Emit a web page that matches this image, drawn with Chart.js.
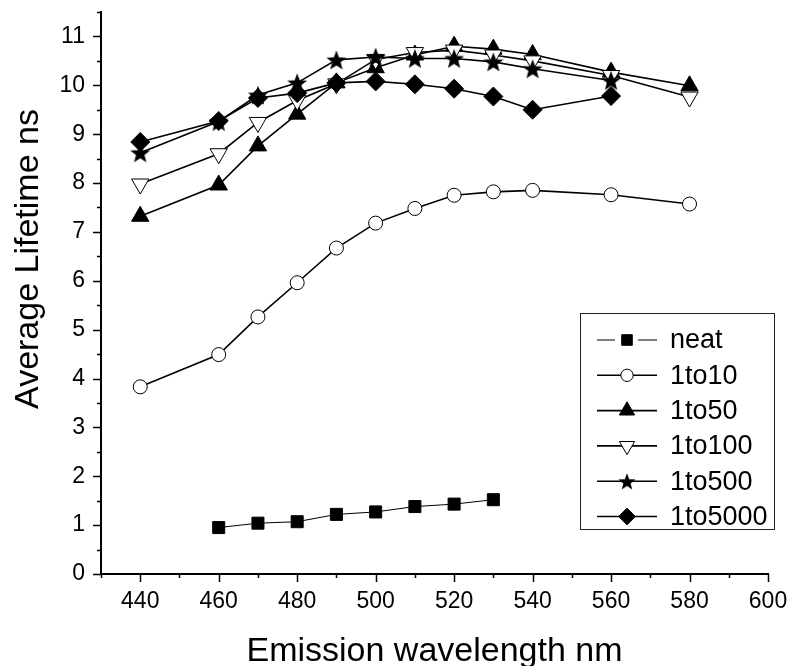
<!DOCTYPE html>
<html>
<head>
<meta charset="utf-8">
<title>Average Lifetime</title>
<script src="https://cdn.jsdelivr.net/npm/chart.js@4.4.0/dist/chart.umd.min.js"></script>
<style>
    html, body { margin: 0; padding: 0; background: #fff; }
</style>
</head>
<body>
<canvas id="lifetimeChart" width="790" height="666"></canvas>
<script>
// emission wavelengths (nm) for each series
const wlNeat = [460, 470, 480, 490, 500, 510, 520, 530];
const wlLong = [440, 460, 470, 480, 490, 500, 510, 520, 530, 540, 560, 580];
const wlShort = [440, 460, 470, 480, 490, 500, 510, 520, 530, 540, 560];

// average lifetime (ns)
const neat = [0.95, 1.04, 1.07, 1.22, 1.27, 1.38, 1.43, 1.52];
const r1to10 = [3.83, 4.49, 5.26, 5.96, 6.67, 7.18, 7.48, 7.75, 7.82, 7.85, 7.76, 7.57];
const r1to50 = [7.32, 7.96, 8.76, 9.41, 10.05, 10.36, 10.62, 10.80, 10.74, 10.63, 10.27, 9.99];
const r1to100 = [7.98, 8.60, 9.24, 9.69, 10.03, 10.53, 10.67, 10.72, 10.62, 10.50, 10.20, 9.76];
const r1to500 = [8.62, 9.26, 9.80, 10.05, 10.52, 10.58, 10.55, 10.55, 10.48, 10.34, 10.10];
const r1to5000 = [8.84, 9.27, 9.74, 9.84, 10.05, 10.08, 10.02, 9.93, 9.77, 9.50, 9.78];

const seriesNames = ["neat", "1to10", "1to50", "1to100", "1to500", "1to5000"];

const xTicks = [440, 460, 480, 500, 520, 540, 560, 580, 600];
const yTicks = [0, 1, 2, 3, 4, 5, 6, 7, 8, 9, 10, 11];
const xTitle = "Emission wavelength nm";
const yTitle = "Average Lifetime ns";

const FONT = "'Liberation Sans', Arial, sans-serif";

// filled five point star, Chart.js only has an asterisk
function makeStar(size, outer) {
    const c = document.createElement("canvas");
    c.width = size;
    c.height = size;
    const g = c.getContext("2d");
    const inner = outer * 0.42;
    g.beginPath();
    for (let i = 0; i < 10; i++) {
        const a = -Math.PI / 2 + i * Math.PI / 5;
        const rad = i % 2 ? inner : outer;
        g.lineTo(size / 2 + rad * Math.cos(a), size / 2 + 1 + rad * Math.sin(a));
    }
    g.closePath();
    g.fillStyle = "#000";
    g.fill();
    return c;
}
const starImg = makeStar(24, 10.5);
const starSmall = makeStar(20, 9);

function toPoints(xs, ys) {
    return xs.map((x, i) => ({ x: x, y: ys[i] }));
}

const datasets = [
    { label: seriesNames[0], data: toPoints(wlNeat, neat), pointStyle: "rect", pointRadius: 8.5,
      pointBackgroundColor: "#000", borderWidth: 1, order: 6 },
    { label: seriesNames[1], data: toPoints(wlLong, r1to10), pointStyle: "circle", pointRadius: 7,
      pointBackgroundColor: "#fff", order: 5 },
    { label: seriesNames[2], data: toPoints(wlLong, r1to50), pointStyle: "triangle", pointRadius: 10,
      pointBackgroundColor: "#000", order: 4 },
    { label: seriesNames[3], data: toPoints(wlLong, r1to100), pointStyle: "triangle", pointRadius: 10,
      pointRotation: 180, pointBackgroundColor: "#fff", order: 3 },
    { label: seriesNames[4], data: toPoints(wlShort, r1to500), pointStyle: starImg, pointRadius: 10,
      pointBackgroundColor: "#000", order: 2 },
    { label: seriesNames[5], data: toPoints(wlShort, r1to5000), pointStyle: "rectRot", pointRadius: 9.5,
      pointBackgroundColor: "#000", order: 1 }
];
datasets.forEach(ds => {
    ds.borderColor = "#000";
    if (ds.borderWidth === undefined) ds.borderWidth = 1.6;
    ds.pointBorderColor = "#000";
    ds.pointBorderWidth = 1;
    ds.fill = false;
    ds.tension = 0;
});

// major and minor tick marks, pointing outwards, plus the axis titles
const axisDecor = {
    id: "axisDecor",
    afterDraw(chart) {
        const { ctx, scales: { x, y } } = chart;
        ctx.save();
        ctx.strokeStyle = "#000";
        ctx.lineWidth = 1.5;
        ctx.beginPath();
        for (let v = 430; v <= 600; v += 10) {
            const px = Math.round(x.getPixelForValue(v)) + 0.5;
            const len = v % 20 === 0 ? 8 : 4;
            ctx.moveTo(px, x.top);
            ctx.lineTo(px, x.top + len);
        }
        for (let v = 0; v <= 11.5; v += 0.5) {
            const py = Math.round(y.getPixelForValue(v)) + 0.5;
            const len = v % 1 === 0 ? 8 : 4;
            ctx.moveTo(y.right, py);
            ctx.lineTo(y.right - len, py);
        }
        ctx.stroke();

        ctx.fillStyle = "#000";
        ctx.font = "34px " + FONT;
        ctx.textAlign = "center";
        ctx.textBaseline = "alphabetic";
        ctx.fillText(xTitle, (chart.chartArea.left + chart.chartArea.right) / 2, 661);
        ctx.translate(38, 259);
        ctx.rotate(-Math.PI / 2);
        ctx.fillText(yTitle, 0, 0);
        ctx.restore();
    }
};

// boxed legend with line + marker samples
const boxLegend = {
    id: "boxLegend",
    afterDraw(chart) {
        const ctx = chart.ctx;
        const left = 580, top = 313, w = 194, h = 216;
        ctx.save();
        ctx.strokeStyle = "#222";
        ctx.lineWidth = 1;
        ctx.strokeRect(left + 0.5, top + 0.5, w, h);
        ctx.font = "27px " + FONT;
        ctx.textBaseline = "middle";
        chart.data.datasets.forEach((ds, i) => {
            const cy = 340 + i * 35.3;
            ctx.strokeStyle = "#000";
            ctx.lineWidth = ds.borderWidth;
            ctx.beginPath();
            if (i === 0) {
                ctx.moveTo(597, cy); ctx.lineTo(615, cy);
                ctx.moveTo(638, cy); ctx.lineTo(657, cy);
            } else {
                ctx.moveTo(597, cy); ctx.lineTo(657, cy);
            }
            ctx.stroke();
            ctx.fillStyle = ds.pointBackgroundColor;
            ctx.lineWidth = 1;
            Chart.helpers.drawPoint(ctx, {
                pointStyle: ds.pointStyle === starImg ? starSmall : ds.pointStyle,
                radius: ds.pointRadius * 0.88,
                rotation: ds.pointRotation || 0,
                borderWidth: 1
            }, 627, cy);
            ctx.fillStyle = "#000";
            ctx.fillText(ds.label, 670, cy + 1);
        });
        ctx.restore();
    }
};

new Chart(document.getElementById("lifetimeChart"), {
    type: "line",
    data: { datasets: datasets },
    options: {
        responsive: false,
        animation: false,
        layout: { padding: { top: 12, right: 22, left: 0, bottom: 0 } },
        plugins: {
            legend: { display: false },
            tooltip: { enabled: false }
        },
        scales: {
            x: {
                type: "linear",
                min: 430,
                max: 600,
                afterBuildTicks: scale => { scale.ticks = xTicks.map(v => ({ value: v })); },
                afterFit: scale => {
                    scale.height = 92;
                    scale.paddingLeft = 0;
                    scale.paddingRight = 0;
                },
                grid: { display: false, drawTicks: false, tickLength: 0 },
                border: { display: true, color: "#000", width: 2 },
                ticks: { color: "#000", padding: 14, font: { family: FONT, size: 23 } }
            },
            y: {
                type: "linear",
                min: 0,
                max: 11.5,
                afterBuildTicks: scale => { scale.ticks = yTicks.map(v => ({ value: v })); },
                afterFit: scale => {
                    scale.width = 101;
                    scale.paddingTop = 0;
                    scale.paddingBottom = 0;
                },
                grid: { display: false, drawTicks: false, tickLength: 0 },
                border: { display: true, color: "#000", width: 2 },
                ticks: { color: "#000", padding: 16, font: { family: FONT, size: 23 } }
            }
        }
    },
    plugins: [axisDecor, boxLegend]
});
</script>
</body>
</html>
